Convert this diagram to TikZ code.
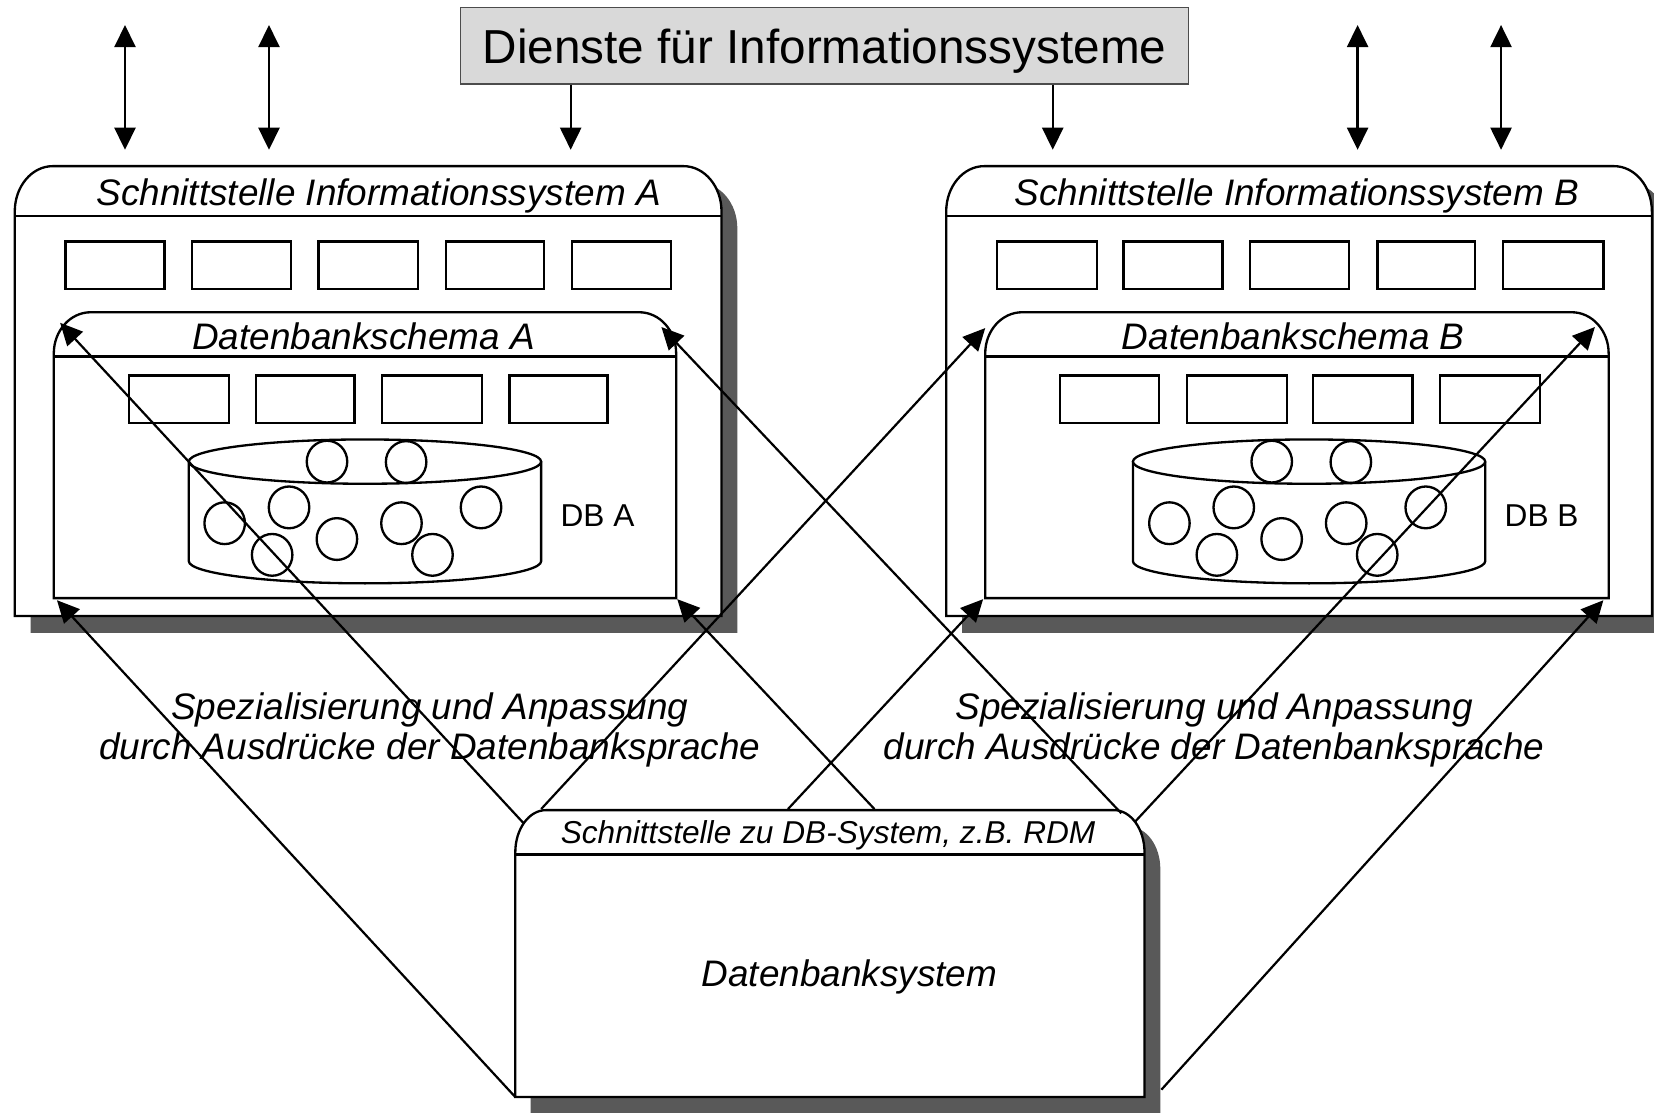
\documentclass[tikz,border=0pt]{standalone}
\usepackage{fontspec}
\setmainfont{Liberation Sans}
\usetikzlibrary{arrows.meta}
\definecolor{shadowgray}{HTML}{595959}
\definecolor{titlegray}{HTML}{D9D9D9}
\tikzset{
  rtbox/.style n args={6}{insert path={(#1,#4) -- (#1,{#2+#6}) .. controls (#1,{#2+0.4477*#6}) and ({#1+0.4477*#5},#2) .. ({#1+#5},#2) -- ({#3-#5},#2) .. controls ({#3-0.4477*#5},#2) and (#3,{#2+0.4477*#6}) .. (#3,{#2+#6}) -- (#3,#4) -- cycle}},
  frame/.style={draw=black, fill=white, line width=1.1pt},
  shadowbox/.style={fill=shadowgray, draw=none},
  smallbox/.style={draw=black, fill=white, line width=1.1pt},
  tip/.tip={Triangle[length=10.5pt,width=10pt]},
  conn/.style={line width=1.05pt, -tip},
  dconn/.style={line width=1.05pt, tip-tip},
  hdr/.style={font=\fontsize{17.5}{21}\selectfont\itshape, anchor=base, inner sep=0pt},
  dblabel/.style={font=\fontsize{15}{18}\selectfont, anchor=base west, inner sep=0pt},
  speclabel/.style={font=\fontsize{17.5}{18.75}\selectfont\itshape, align=center, inner sep=0pt},
  titlebox/.style={draw=black!70, line width=0.6pt, fill=titlegray, minimum width=345.3pt, minimum height=36.3pt, inner sep=0pt, font=\fontsize{22.6}{26}\selectfont, text height=16.9pt, text depth=0pt},
}
\begin{document}
\begin{tikzpicture}[x=0.5pt,y=-0.5pt]
\path[use as bounding box, clip] (0,0) rectangle (1568,1055);

% ---------- shadows ----------
\fill[shadowbox, rtbox={29}{173.5}{699}{600}{36}{43}];
\fill[shadowbox, rtbox={912}{173.5}{1581}{600}{36}{43}];
\fill[shadowbox, rtbox={503}{784}{1100}{1056}{29}{40}];

% ---------- Informationssystem A ----------
\draw[frame, rtbox={14}{157.5}{684}{584}{36}{43}];
\draw[line width=1.1pt] (14,205) -- (684,205);
\node[hdr] (isA) at (359,195) {Schnittstelle Informationssystem A};
\foreach \a/\b in {62/156,182/276,302/396,423/516,542/636}
  \draw[smallbox] (\a,229) rectangle (\b,274);

% ---------- Informationssystem B ----------
\draw[frame, rtbox={897}{157.5}{1566}{584}{36}{43}];
\draw[line width=1.1pt] (897,205) -- (1566,205);
\node[hdr] (isB) at (1229.5,195) {Schnittstelle Informationssystem B};
\foreach \a/\b in {945/1040,1065/1159,1185/1279,1306/1398,1425/1520}
  \draw[smallbox] (\a,229) rectangle (\b,274);

% ---------- Datenbankschema A ----------
\draw[frame, rtbox={51}{296}{641}{567}{35}{39}];
\draw[line width=1.1pt] (51,338) -- (641,338);
\node[hdr] (schA) at (344.5,331) {Datenbankschema A};
\foreach \a/\b in {122/217,243/336,362/457,483/576}
  \draw[smallbox] (\a,356) rectangle (\b,401);

% ---------- Datenbankschema B ----------
\draw[frame, rtbox={934}{296}{1525}{567}{35}{39}];
\draw[line width=1.1pt] (934,338) -- (1525,338);
\node[hdr] (schB) at (1226,331) {Datenbankschema B};
\foreach \a/\b in {1005/1099,1125/1220,1245/1339,1365/1460}
  \draw[smallbox] (\a,356) rectangle (\b,401);

% ---------- cylinders ----------
\foreach \cx in {346,1241}{
  \draw[frame] ({\cx-167},437.6) -- ({\cx-167},532)
    .. controls ({\cx-167},{532+0.5523*21}) and ({\cx-0.5523*167},553) .. (\cx,553)
    .. controls ({\cx+0.5523*167},553) and ({\cx+167},{532+0.5523*21}) .. ({\cx+167},532)
    -- ({\cx+167},437.6);
  \draw[frame] (\cx,437.6) ellipse [x radius=83.5pt, y radius=10.5pt];
}
\foreach \dx in {0,895.6}{
  \foreach \x/\y in {310/437.6,385/438,213/496,274/481,258/526,319.4/511,380.6/496,456/481,410/526}
    \draw[line width=1.1pt] ({\x+\dx},\y) ellipse [x radius=9.6pt, y radius=9.9pt];
}
\node[dblabel] (dbA) at (531,499) {DB A};
\node[dblabel] (dbB) at (1426,499) {DB B};

% ---------- Datenbanksystem ----------
\draw[frame, rtbox={488.5}{768}{1085}{1040}{29}{40}];
\draw[line width=1.1pt] (488.5,810) -- (1085,810);
\node[hdr, font=\fontsize{15}{18}\selectfont\itshape] (dbsHdr) at (785,799.4) {Schnittstelle zu DB-System, z.B. RDM};
\node[hdr] (dbs) at (805.3,935) {Datenbanksystem};

% ---------- title ----------
\node[titlebox] (title) at (781.7,43.3) {Dienste für Informationssysteme};

% ---------- labels ----------
\node[speclabel] (specA) at (407.5,692) {Spezialisierung und Anpassung\\durch Ausdrücke der Datenbanksprache};
\node[speclabel] (specB) at (1151,692) {Spezialisierung und Anpassung\\durch Ausdrücke der Datenbanksprache};

% ---------- coordinates ----------
\coordinate (u1a) at (118.5,23.7);  \coordinate (u1b) at (118.5,142);
\coordinate (u2a) at (255,23.7);    \coordinate (u2b) at (255,142);
\coordinate (u3a) at (1287,23.7);   \coordinate (u3b) at (1287,142);
\coordinate (u4a) at (1423,23.7);   \coordinate (u4b) at (1423,142);
\coordinate (d1) at (541,142);
\coordinate (d2) at (998,142);

\coordinate (dbsBL) at (488.5,1040);
\coordinate (dbsTL1) at (496,780);
\coordinate (dbsTL2) at (513,767);
\coordinate (dbsT1) at (747,767);
\coordinate (dbsT2) at (829,767);
\coordinate (dbsTR1) at (1063,771);
\coordinate (dbsTR2) at (1076,779);
\coordinate (dbsBR) at (1101,1033);

\coordinate (schAbl) at (54,569);
\coordinate (schAtl) at (57,306);
\coordinate (schAbr) at (642,568);
\coordinate (schAtr) at (627,310);
\coordinate (schBtl) at (934,311);
\coordinate (schBbl) at (932,568);
\coordinate (schBtr) at (1512,310);
\coordinate (schBbr) at (1520,569);

% ---------- connectors ----------
\draw[dconn] (u1a) -- (u1b);
\draw[dconn] (u2a) -- (u2b);
\draw[dconn] (u3a) -- (u3b);
\draw[dconn] (u4a) -- (u4b);
\draw[conn] (title.south -| d1) -- (d1);
\draw[conn] (title.south -| d2) -- (d2);

\draw[conn] (dbsBL) -- (schAbl);
\draw[conn] (dbsTL1) -- (schAtl);
\draw[conn] (dbsTL2) -- (schBtl);
\draw[conn] (dbsT1) -- (schBbl);
\draw[conn] (dbsT2) -- (schAbr);
\draw[conn] (dbsTR1) -- (schAtr);
\draw[conn] (dbsTR2) -- (schBtr);
\draw[conn] (dbsBR) -- (schBbr);
\end{tikzpicture}
\end{document}
